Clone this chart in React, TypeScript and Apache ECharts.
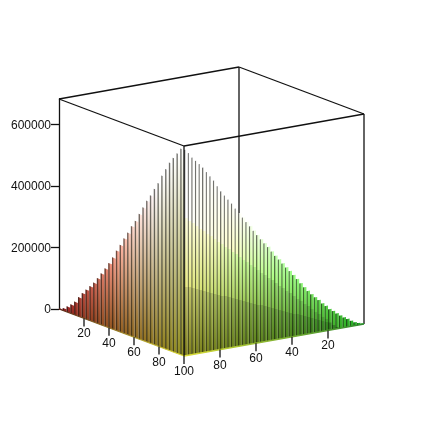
import React, { useEffect, useRef } from "react";
import * as echarts from "echarts";

const Z_TOP = 683000;
const zTicks = [0, 200000, 400000, 600000];
const xTicks = [20, 40, 60, 80, 100];
const yTicks = [20, 40, 60, 80];

const leftX = [1.5, 4.5, 7.6, 10.6, 13.6, 16.7, 19.7, 22.7, 25.8, 28.8, 31.8, 34.8, 37.9, 40.9, 43.9, 47, 50, 53, 56, 59, 62.1, 65.2, 68.2, 71.2, 74.2, 77.3, 80.3, 83.3, 86.4, 89.4, 92.4, 95.5, 98.5];
const leftZ = [3000, 8000, 18000, 29000, 43000, 62000, 80000, 96000, 112000, 128000, 147000, 167000, 188000, 210000, 233000, 260000, 283000, 309000, 332000, 358000, 380000, 407000, 433000, 459000, 481000, 507000, 530000, 559000, 585000, 611000, 631000, 650000, 670000];

const rightY = [1, 3, 5, 7, 9, 11, 13, 15, 17, 19, 21, 23, 25, 27, 29, 31, 33, 35, 37, 39, 41, 43, 45, 47, 49, 51, 53, 55, 57, 59, 61, 63, 65, 67, 69, 71, 73, 75, 77, 79, 81, 83, 85, 87, 89, 91, 93, 95, 97, 99];
const rightZ = [3000, 6500, 11000, 18000, 26000, 33000, 41000, 50000, 60000, 68000, 81000, 91000, 104000, 115000, 127000, 140000, 154000, 169000, 185000, 200000, 215000, 229000, 244000, 259000, 273000, 289000, 306000, 320000, 335000, 351000, 367000, 384000, 400000, 416000, 433000, 450000, 468000, 483000, 498000, 514000, 533000, 553000, 569000, 585000, 602000, 615000, 628000, 641000, 657000, 670000];

// box corners as [x, y] in data units
const corners: Record<string, [number, number]> = { left: [0, 100], front: [100, 100], right: [100, 0], back: [0, 0] };

const FONT = "'Liberation Sans', Arial, sans-serif";
const INK = "#111111";

function project(api: any, x: number, y: number, z: number) {
  const p = api.coord([x + (100 - y) * 1.44, z]);
  return [p[0], p[1] + x * 0.47 - (100 - y) * 0.32];
}

function rgb(x: number, y: number, z: number, k: number) {
  const f = z / Z_TOP;
  const lit = Math.min(1, 0.62 + 0.75 * f) * k;
  const white = (0.09 + 0.2 * Math.min(1, f * 2)) * k;
  const mix = (v: number) => Math.round(255 * Math.min(1, v * lit + white));
  return `rgb(${mix(Math.pow(y / 100, 0.75))},${mix(Math.pow(x / 100, 0.75))},${mix(Math.min(1, f + 0.1))})`;
}

function wallBar(api: any, x0: number, y0: number, x1: number, y1: number, z: number, cx: number, cy: number, isRight: boolean) {
  const a = project(api, x0, y0, 0);
  const b = project(api, x1, y1, 0);
  const c = project(api, x1, y1, z);
  const d = project(api, x0, y0, z);
  const midBase = (a[1] + b[1]) / 2;
  const midTop = (c[1] + d[1]) / 2;
  const span = Math.max(0.01, midBase - midTop);
  const stops: { offset: number; color: string }[] = [];
  const at = (py: number) => Math.max(0, Math.min(1, (py - midTop) / span));
  const zAt = (py: number) => ((midBase - py) / span) * z;
  const cAt = (py: number, k: number) => rgb(cx, cy, Math.max(0, zAt(py)), k);
  if (isRight) {
    const px = (a[0] + b[0]) / 2;
    const b1 = 217 + (px - 184) * 0.72;
    const b2 = 286 + (px - 184) * 0.25;
    const y1b = Math.max(midTop, Math.min(midBase, b1));
    const y2b = Math.max(y1b, Math.min(midBase, b2));
    stops.push({ offset: 0, color: cAt(midTop, 0.96) });
    stops.push({ offset: at(y1b), color: cAt(y1b, 0.96) });
    stops.push({ offset: at(y1b), color: cAt(y1b, 0.84) });
    stops.push({ offset: at(y2b), color: cAt(y2b, 0.84) });
    stops.push({ offset: at(y2b), color: cAt(y2b, 0.72) });
    stops.push({ offset: 1, color: cAt(midBase, 0.72) });
  } else {
    stops.push({ offset: 0, color: cAt(midTop, 0.88) });
    stops.push({ offset: 1, color: cAt(midBase, 0.8) });
  }
  const fill = new (echarts as any).graphic.LinearGradient(0, 0, 0, 1, stops);
  const t = 0.36;
  const e = [a[0] + (b[0] - a[0]) * t, a[1] + (b[1] - a[1]) * t];
  const g = [d[0] + (c[0] - d[0]) * t, d[1] + (c[1] - d[1]) * t];
  return {
    type: "group",
    children: [
      { type: "polygon", shape: { points: [a, b, c, d] }, style: { fill } },
      { type: "polygon", shape: { points: [a, e, g, d] }, style: { fill: "rgba(20,20,15,0.6)" } },
    ],
  };
}

export default function App() {
  const ref = useRef<HTMLDivElement>(null);
  useEffect(() => {
    const chart = echarts.init(ref.current!, null, { renderer: "svg" });
    const line = (p: number[], q: number[], w = 1.3) => ({
      type: "line",
      shape: { x1: p[0], y1: p[1], x2: q[0], y2: q[1] },
      style: { stroke: INK, lineWidth: w },
    });
    const leftWidth = 100 / leftX.length;
    const option: any = {
      animation: false,
      backgroundColor: "#ffffff",
      grid: { left: 59, top: 99, width: 305, height: 210, containLabel: false },
      xAxis: { type: "value", min: 0, max: 244, show: false },
      yAxis: {
        type: "value",
        min: 0,
        max: Z_TOP,
        splitLine: { show: false },
        axisLine: { show: true, lineStyle: { color: INK, width: 1.3 } },
        axisTick: { show: true, length: 8, customValues: zTicks, lineStyle: { color: INK, width: 1.3 } },
        axisLabel: { customValues: zTicks, margin: 8, fontFamily: FONT, fontSize: 12, color: "#111111", formatter: (v: number) => String(v) },
      },
      series: [
        {
          type: "custom",
          name: "backBox",
          silent: true,
          clip: false,
          z: 1,
          data: [[0]],
          renderItem: (_: any, api: any) => {
            const P = (k: string, z: number) => project(api, corners[k][0], corners[k][1], z);
            return {
              type: "group",
              children: [
                line(P("back", Z_TOP), P("back", 0)),
                line(P("left", Z_TOP), P("back", Z_TOP)),
                line(P("back", Z_TOP), P("right", Z_TOP)),
                line(P("right", Z_TOP), P("right", 0)),
              ],
            };
          },
        },
        {
          type: "custom",
          name: "leftWall",
          silent: true,
          clip: false,
          z: 2,
          data: leftX.map((x, i) => [x, leftZ[i]]),
          renderItem: (_: any, api: any) => {
            const x = api.value(0);
            return wallBar(api, x - leftWidth / 2, 100, x + leftWidth / 2, 100, api.value(1), x, 100, false);
          },
        },
        {
          type: "custom",
          name: "rightWall",
          silent: true,
          clip: false,
          z: 2,
          data: rightY.map((y, i) => [y, rightZ[i]]),
          renderItem: (_: any, api: any) => {
            const y = api.value(0);
            return wallBar(api, 100, y + 1, 100, y - 1, api.value(1), 100, y, true);
          },
        },
        {
          type: "custom",
          name: "frontBox",
          silent: true,
          clip: false,
          z: 3,
          data: [[0]],
          renderItem: (_: any, api: any) => {
            const P = (k: string, z: number) => project(api, corners[k][0], corners[k][1], z);
            const l0 = P("left", 0);
            const f0 = P("front", 0);
            const r0 = P("right", 0);
            const rim = (p: number[], q: number[], c0: string, c1: string) => ({
              type: "line",
              shape: { x1: p[0], y1: p[1], x2: q[0], y2: q[1] },
              style: {
                lineWidth: 1.3,
                stroke: new (echarts as any).graphic.LinearGradient(0, 0, 1, 0, [
                  { offset: 0, color: c0 },
                  { offset: 1, color: c1 },
                ]),
              },
            });
            return {
              type: "group",
              children: [
                rim(l0, f0, "#5a2a1a", "#dede36"),
                rim(f0, r0, "#dede36", "#2f8a2f"),
                line(P("left", Z_TOP), P("front", Z_TOP)),
                line(P("front", Z_TOP), P("right", Z_TOP)),
                line(P("front", Z_TOP), P("front", 0)),
              ],
            };
          },
        },
        {
          type: "custom",
          name: "xAxisTicks",
          silent: true,
          clip: false,
          z: 4,
          data: xTicks.map((v) => [v]),
          renderItem: (_: any, api: any) => {
            const v = api.value(0);
            const p = project(api, v, 100, 0);
            return {
              type: "group",
              children: [
                line(p, [p[0], p[1] + 8]),
                {
                  type: "text",
                  style: { x: p[0], y: p[1] + 15, text: String(v), align: "center", verticalAlign: "middle", font: `12px ${FONT}`, fill: "#111111" },
                },
              ],
            };
          },
        },
        {
          type: "custom",
          name: "yAxisTicks",
          silent: true,
          clip: false,
          z: 4,
          data: yTicks.map((v) => [v]),
          renderItem: (_: any, api: any) => {
            const v = api.value(0);
            const p = project(api, 100, v, 0);
            return {
              type: "group",
              children: [
                line(p, [p[0], p[1] + 8]),
                {
                  type: "text",
                  style: { x: p[0], y: p[1] + 15, text: String(v), align: "center", verticalAlign: "middle", font: `12px ${FONT}`, fill: "#111111" },
                },
              ],
            };
          },
        },
      ],
    };
    chart.setOption(option);
    return () => chart.dispose();
  }, []);
  return <div ref={ref} style={{ position: "fixed", left: 0, top: 0, width: 423, height: 423, filter: "blur(0.35px)" }} />;
}
